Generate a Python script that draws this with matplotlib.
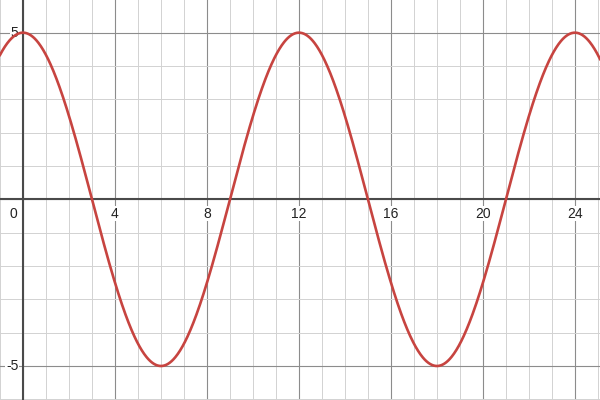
import matplotlib.pyplot as plt
import numpy as np

# Kurvenparameter
amplitude = 5
period = 12
x_range = (-1.0, 25.09)
y_range = (-6.02, 5.98)

x_major = [4, 8, 12, 16, 20, 24]
y_major = [-5, 5]
x_labels = ["4", "8", "12", "16", "20", "24"]
y_labels = ["-5", "5"]

plt.rcParams['font.family'] = ['Liberation Sans', 'DejaVu Sans']

fig = plt.figure(figsize=(6, 4), dpi=100)
ax = fig.add_axes([0, 0, 1, 1])
ax.set_xlim(*x_range)
ax.set_ylim(*y_range)
ax.axis('off')

# Gitter
for gx in np.arange(-1, 26):
    major = gx % 4 == 0
    ax.axvline(gx, color='#8c8c8c' if major else '#d2d2d2', linewidth=0.8 if major else 0.7, zorder=0)
for gy in np.arange(-6, 7):
    major = gy % 5 == 0
    ax.axhline(gy, color='#8c8c8c' if major else '#d2d2d2', linewidth=0.8 if major else 0.7, zorder=0)

# Achsen
ax.axhline(0, color='#4a4a4a', linewidth=1.5, zorder=1)
ax.axvline(0, color='#4a4a4a', linewidth=1.5, zorder=1)

# Funktion
xs = np.linspace(x_range[0], x_range[1], 1000)
ys = amplitude * np.cos(2 * np.pi * xs / period)
ax.plot(xs, ys, color='#c74440', linewidth=1.9, zorder=3)

# Beschriftungen
bbox = dict(boxstyle='square,pad=0.05', facecolor='white', edgecolor='none')
ax.text(-0.4, -0.22, "0", ha='center', va='top', fontsize=10, color='#222222', zorder=2, bbox=bbox)
for xv, lab in zip(x_major, x_labels):
    ax.text(xv, -0.22, lab, ha='center', va='top', fontsize=10, color='#222222', zorder=2, bbox=bbox)
for yv, lab in zip(y_major, y_labels):
    ax.text(-0.2, yv, lab, ha='right', va='center', fontsize=10, color='#222222', zorder=2, bbox=bbox)

fig.savefig('out.png', dpi=100)
